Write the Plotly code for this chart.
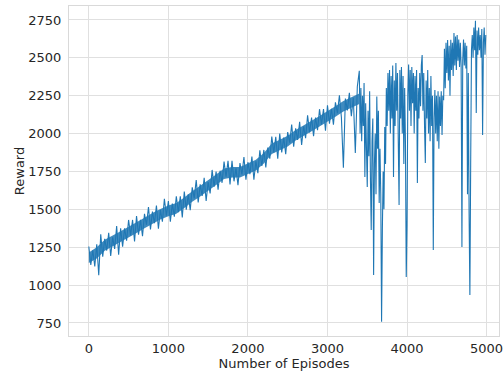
import numpy as np
import plotly.graph_objects as go

# Episode positions: every 25 episodes on the steady part, every 10 on the unstable part
episodes = np.concatenate([np.arange(0, 3401, 25), np.arange(3410, 4991, 10)])

# Reward values (edges of the noisy band and its spikes)
reward_steady = [
    1255, 1133, 1230, 1123, 1270, 1065, 1335, 1188, 1305, 1228,
    1345, 1193, 1315, 1238, 1390, 1200, 1375, 1253, 1375, 1293,
    1430, 1328, 1430, 1288, 1455, 1333, 1430, 1323, 1470, 1398,
    1515, 1368, 1485, 1408, 1525, 1373, 1495, 1418, 1570, 1458,
    1555, 1419, 1538, 1452, 1586, 1481, 1586, 1447, 1618, 1498,
    1599, 1495, 1645, 1574, 1693, 1546, 1665, 1589, 1708, 1556,
    1680, 1605, 1760, 1650, 1750, 1630, 1755, 1675, 1815, 1715,
    1820, 1665, 1820, 1685, 1770, 1660, 1805, 1730, 1845, 1695,
    1811, 1732, 1849, 1695, 1817, 1738, 1890, 1786, 1892, 1777,
    1908, 1834, 1980, 1876, 1978, 1834, 2000, 1876, 1973, 1864,
    2010, 1940, 2059, 1914, 2034, 1958, 2078, 1925, 2047, 1969,
    2121, 2008, 2105, 1983, 2106, 2023, 2161, 2059, 2162, 2019,
    2187, 2066, 2164, 2058, 2206, 2135, 2253, 2107, 1775, 2231,
    2153, 2269, 2115, 2237, 1872, 2309, 2415,
]
reward_unstable = [
    2000, 2300, 1950, 2250, 2050, 2334, 1714, 2200, 1900, 1648,
    2150, 1850, 2280, 1700, 1364, 1950, 2100, 1067, 1800, 2000,
    1600, 2244, 1900, 2150, 1542, 1900, 1600, 758, 1364, 1750,
    1500, 2044, 1800, 2300, 2050, 2400, 2150, 2420, 2000, 2380,
    2100, 2450, 1714, 2350, 2050, 2466, 2150, 2400, 1950, 1529,
    2420, 2100, 2440, 2000, 2380, 1800, 2300, 1950, 1054, 1400,
    2250, 2456, 2150, 2420, 2050, 2440, 2200, 2400, 2000, 2380,
    2150, 2420, 1674, 2300, 2100, 2400, 2180, 2450, 2519, 2150,
    2400, 2050, 1806, 2350, 2100, 2420, 2000, 2300, 1950, 2380,
    2050, 2250, 1232, 2100, 2288, 2000, 2250, 1950, 2280, 1900,
    2244, 2050, 2280, 1990, 2250, 2220, 2560, 2300, 2600, 2400,
    2618, 2350, 2580, 2250, 2620, 2420, 2600, 2380, 2664, 2450,
    2640, 2420, 2650, 2480, 2620, 2440, 2600, 2450, 1252, 2480,
    2620, 2450, 2600, 2430, 2580, 1600, 2400, 1474, 935, 1800,
    2550, 2650, 2500, 2700, 2550, 2745, 2136, 2680, 2520, 2700,
    2550, 2650, 2500, 2690, 1990, 2600, 2700, 2520, 2650,
]
reward = reward_steady + reward_unstable

# Dense core of the steady band (read every 100 episodes)
band_episodes = np.arange(0, 3401, 100)
band_low = [
    1145, 1175, 1227, 1255, 1285, 1315, 1343, 1375, 1405, 1433,
    1455, 1471, 1508, 1550, 1585, 1620, 1660, 1700, 1710, 1710,
    1731, 1757, 1802, 1865, 1890, 1915, 1954, 1987, 2015, 2046,
    2077, 2111, 2145, 2170, 2195,
]
band_high = [
    1215, 1250, 1300, 1325, 1355, 1385, 1413, 1445, 1475, 1503,
    1525, 1541, 1578, 1620, 1655, 1690, 1730, 1770, 1780, 1780,
    1801, 1827, 1872, 1935, 1960, 1985, 2024, 2057, 2085, 2116,
    2147, 2181, 2215, 2240, 2265,
]

x_ticks = [0, 1000, 2000, 3000, 4000, 5000]
y_ticks = [750, 1000, 1250, 1500, 1750, 2000, 2250, 2500, 2750]

blue = "#1f77b4"
fig = go.Figure()
fig.add_trace(go.Scatter(
    x=band_episodes, y=band_low, mode="lines",
    line=dict(width=0, color=blue), showlegend=False, hoverinfo="skip",
))
fig.add_trace(go.Scatter(
    x=band_episodes, y=band_high, mode="lines", fill="tonexty",
    fillcolor="rgba(31,119,180,0.85)",
    line=dict(width=0, color=blue), showlegend=False, hoverinfo="skip",
))
fig.add_trace(go.Scatter(
    x=episodes, y=reward, mode="lines",
    line=dict(color=blue, width=1.1, simplify=False),
    showlegend=False, hoverinfo="skip",
))

font = dict(family="DejaVu Sans", size=13, color="#262626")
axis_common = dict(
    showgrid=True, gridcolor="#e0e0e0", gridwidth=1,
    showline=True, linecolor="#d9d9d9", linewidth=1.2, mirror=True,
    zeroline=False, ticks="", tickfont=font,
    ticklabeloverflow="allow",
)

fig.update_layout(
    width=503, height=376,
    margin=dict(l=69, r=0, t=6, b=40),
    paper_bgcolor="white", plot_bgcolor="white",
    font=font,
    xaxis=dict(range=[-249, 5156], tickvals=x_ticks,
               ticklabelstandoff=0,
               title=dict(text="Number of Episodes", font=font, standoff=2),
               **axis_common),
    yaxis=dict(range=[664, 2842], tickvals=y_ticks,
               ticklabelstandoff=4,
               title=dict(text="Reward", font=font, standoff=0),
               **axis_common),
)

fig.write_html("out.html")
